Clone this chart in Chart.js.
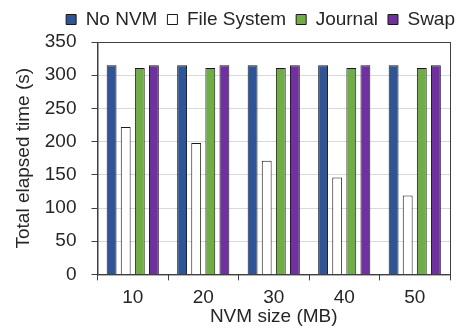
<!DOCTYPE html>
<html>
<head>
<meta charset="utf-8">
<script src="https://cdn.jsdelivr.net/npm/chart.js@4"></script>
<style>
  html, body { margin: 0; padding: 0; background: #fff; }
  #wrap { width: 464px; height: 331px; }
</style>
</head>
<body>
<div id="wrap"><canvas id="nvmChart" width="464" height="331"></canvas></div>
<script>
const sizes = ["10", "20", "30", "40", "50"];
const noNvm = [315, 315, 315, 315, 315];
const fileSystem = [222, 198, 171, 146, 119];
const journal = [311, 311, 311, 311, 311];
const swap = [315, 315, 315, 315, 315];
const yTicks = [0, 50, 100, 150, 200, 250, 300, 350];

const font = "'Liberation Sans', Arial, sans-serif";
const textColor = "#262626";

// plot frame round the chart area
const framePlugin = {
  id: "frame",
  afterDraw(chart) {
    const { ctx, chartArea: a } = chart;
    ctx.save();
    ctx.strokeStyle = "#404040";
    ctx.lineWidth = 1;
    ctx.strokeRect(a.left + 0.5, a.top + 0.5, a.right - a.left, a.bottom - a.top);
    ctx.restore();
  }
};

// nudge the legend: up a bit and over to the right edge
const legendShift = {
  id: "legendShift",
  afterLayout(chart) {
    const lg = chart.legend;
    lg.left += 15; lg.right += 15;
    lg.top -= 3; lg.bottom -= 3;
  }
};

function bar(label, data, color) {
  return {
    label: label,
    data: data,
    backgroundColor: color,
    borderColor: "#1a1a1a",
    borderWidth: 1,
    categoryPercentage: 0.8,
    barPercentage: 0.7
  };
}

const ctx = document.getElementById("nvmChart").getContext("2d");
new Chart(ctx, {
  type: "bar",
  data: {
    labels: sizes,
    datasets: [
      bar("No NVM", noNvm, "#2f5597"),
      bar("File System", fileSystem, "#ffffff"),
      bar("Journal", journal, "#70ad47"),
      bar("Swap", swap, "#7030a0")
    ]
  },
  plugins: [framePlugin, legendShift],
  options: {
    responsive: false,
    animation: false,
    layout: { padding: { left: 12, right: 14, top: 3, bottom: 3 } },
    plugins: {
      tooltip: { enabled: false },
      legend: {
        position: "top",
        align: "end",
        labels: {
          boxWidth: 10,
          boxHeight: 10,
          padding: 10,
          color: textColor,
          font: { family: font, size: 19 }
        }
      }
    },
    scales: {
      x: {
        grid: {
          offset: true,
          drawOnChartArea: false,
          drawTicks: true,
          tickLength: 6,
          tickColor: "#404040"
        },
        border: { color: "#404040" },
        ticks: { color: textColor, padding: 6, font: { family: font, size: 19 } },
        title: {
          display: true,
          text: "NVM size (MB)",
          color: textColor,
          padding: { top: -10, bottom: 0 },
          font: { family: font, size: 19 }
        }
      },
      y: {
        min: 0,
        max: 350,
        afterBuildTicks(axis) {
          axis.ticks = yTicks.map(v => ({ value: v }));
        },
        grid: {
          color: "#d9d9d9",
          tickLength: 6,
          tickColor: "#404040"
        },
        border: { color: "#404040" },
        ticks: { color: textColor, padding: 15, font: { family: font, size: 19 } },
        title: {
          display: true,
          text: "Total elapsed time (s)",
          color: textColor,
          padding: { top: 0, bottom: -5 },
          font: { family: font, size: 19 }
        }
      }
    }
  }
});
</script>
</body>
</html>
